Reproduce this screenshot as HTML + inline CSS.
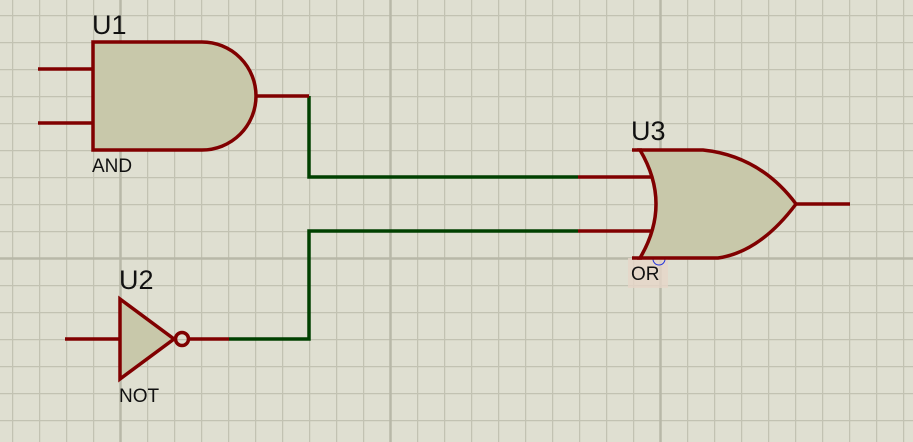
<!DOCTYPE html>
<html><head><meta charset="utf-8"><style>
html,body{margin:0;padding:0;background:#dfdfd1;}
svg{display:block}
</style></head><body>
<svg width="913" height="442" viewBox="0 0 913 442" xmlns="http://www.w3.org/2000/svg">
<defs>
<pattern id="g" x="12" y="15" width="27" height="27" patternUnits="userSpaceOnUse">
<path d="M0.5 0V27M0 0.5H27" stroke="#c2c2b2" stroke-width="1.5" fill="none"/>
</pattern>
</defs>
<rect width="913" height="442" fill="#dfdfd1"/>
<rect width="913" height="442" fill="url(#g)"/>
<g stroke="#b8b8a8" stroke-width="2.5">
<line x1="120.5" y1="0" x2="120.5" y2="442"/>
<line x1="390.5" y1="0" x2="390.5" y2="442"/>
<line x1="660.5" y1="0" x2="660.5" y2="442"/>
<line x1="0" y1="258.5" x2="913" y2="258.5"/>
</g>
<!-- green wires -->
<g stroke="#004000" stroke-width="3.5" fill="none">
<polyline points="309,96 309,177 578,177"/>
<polyline points="229,339 309,339 309,231 578,231"/>
</g>
<!-- pink highlight -->
<rect x="628" y="258" width="40" height="30" fill="#e6d6c8" opacity="0.8"/>
<path d="M653 259 a6 6 0 0 0 12 0" stroke="#2233dd" stroke-width="1" fill="none"/>
<g stroke="#800000" stroke-width="3.5" fill="#c8c8aa" stroke-linejoin="miter">
<!-- AND -->
<line x1="38" y1="69" x2="93" y2="69"/>
<line x1="38" y1="123" x2="93" y2="123"/>
<line x1="256" y1="96" x2="309" y2="96"/>
<path d="M93 42 H202 A54 54 0 0 1 202 150 H93 Z"/>
<!-- NOT -->
<line x1="65" y1="339" x2="120" y2="339"/>
<line x1="188" y1="339" x2="229" y2="339"/>
<path d="M120 299 L174 339 L120 379 Z"/>
<circle cx="182" cy="339" r="6.5" fill="none"/>
<!-- OR -->
<line x1="578" y1="177" x2="658" y2="177"/>
<line x1="578" y1="231" x2="658" y2="231"/>
<line x1="796" y1="204" x2="850" y2="204"/>
<path d="M640 150 H703 Q760 156 796 204 Q760 252 718 258 H640 Q672 204 640 150 Z"/>
<line x1="632" y1="150" x2="642" y2="150"/>
<line x1="632" y1="258" x2="642" y2="258"/>
</g>
<g font-family="Liberation Sans, sans-serif" fill="#111">
<text x="92" y="34" font-size="27">U1</text>
<text x="92" y="172" font-size="19">AND</text>
<text x="119" y="289" font-size="27">U2</text>
<text x="119" y="402" font-size="19">NOT</text>
<text x="631" y="140" font-size="27">U3</text>
<text x="631" y="280" font-size="19">OR</text>
</g>
</svg>
</body></html>
